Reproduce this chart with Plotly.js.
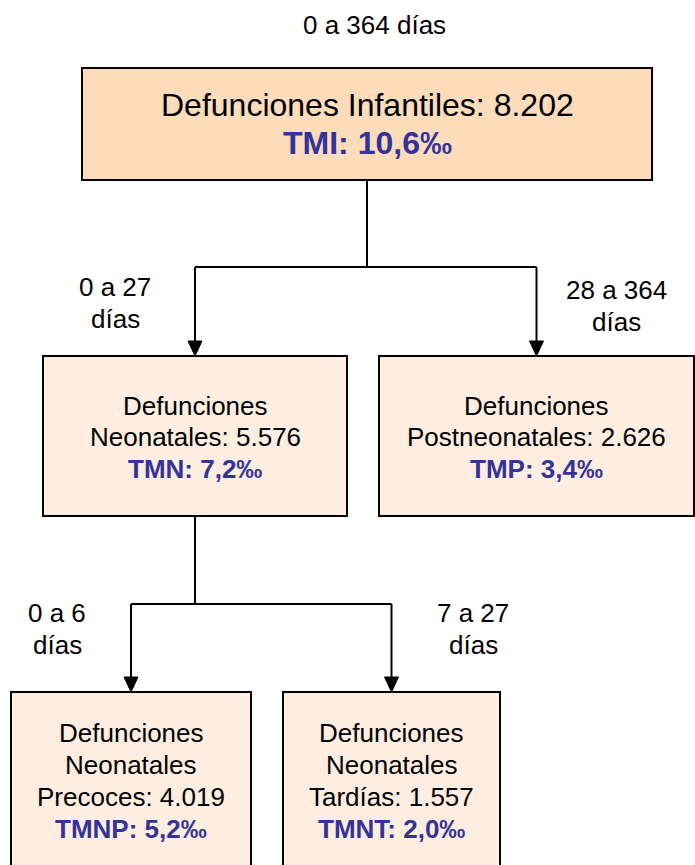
<!DOCTYPE html>
<html>
<head>
<meta charset="utf-8">
<script src="https://cdn.plot.ly/plotly-3.0.1.min.js"></script>
<style>html,body{margin:0;padding:0;background:#fff;}#chart{width:695px;height:865px;}</style>
</head>
<body>
<div id="chart"></div>
<script>
// ---- data ----
const nodeTitles = ["Defunciones Infantiles", "Defunciones<br>Neonatales", "Defunciones<br>Postneonatales", "Defunciones<br>Neonatales<br>Precoces", "Defunciones<br>Neonatales<br>Tardías"];
const nodeDeaths = [8202, 5576, 2626, 4019, 1557];
const rateCodes = ["TMI", "TMN", "TMP", "TMNP", "TMNT"];
const rateValues = [10.6, 7.2, 3.4, 5.2, 2.0];
const rangeLabels = ["0 a 364 días", "0 a 27<br>días", "28 a 364<br>días", "0 a 6<br>días", "7 a 27<br>días"];
const parentOf = [null, 0, 0, 1, 1];

// ---- layout geometry (pixels) ----
const boxes = [
  {x0: 82, x1: 652, y0: 68, y1: 180, ty: 124, fill: '#FCDCBA', fs: 32, sp: 38},
  {x0: 43, x1: 347, y0: 356, y1: 516, ty: 437, fill: '#FDEEE1', fs: 26, sp: 31.5},
  {x0: 379, x1: 694, y0: 356, y1: 516, ty: 437, fill: '#FDEEE1', fs: 26, sp: 31.5},
  {x0: 11, x1: 251, y0: 692, y1: 880, ty: 781, fill: '#FDEEE1', fs: 26, sp: 31.7},
  {x0: 283, x1: 500, y0: 692, y1: 880, ty: 781, fill: '#FDEEE1', fs: 26, sp: 31.7}
];
const labelPos = [{x: 374, y: 25}, {x: 115, y: 303}, {x: 616, y: 306}, {x: 57, y: 629}, {x: 473, y: 629}];
const labelSize = 26, labelSp = 31.5;
const branchY = {0: 267, 1: 604};
const FONT = '"Liberation Sans", Arial, sans-serif';
const BLUE = '#333399';

function fmtInt(n) { return String(n).replace(/\B(?=(\d{3})+(?!\d))/g, '.'); }
function fmtRate(v) { return v.toFixed(1).replace('.', ','); }

const shapes = [];
const annotations = [];

function addLines(lines, cx, cy, sp, size) {
  const n = lines.length;
  lines.forEach((t, j) => {
    annotations.push({xref: 'x', yref: 'y', x: cx, y: cy + (j - (n - 1) / 2) * sp,
      xanchor: 'center', yanchor: 'middle', showarrow: false, align: 'center',
      font: {family: FONT, size: size, color: '#000'}, text: t});
  });
}

boxes.forEach((b, i) => {
  shapes.push({type: 'rect', xref: 'x', yref: 'y', x0: b.x0, x1: b.x1, y0: b.y0, y1: b.y1,
    fillcolor: b.fill, line: {color: '#000', width: 2}, layer: 'below'});
  const cx = (b.x0 + b.x1) / 2;
  const lines = (nodeTitles[i] + ': ' + fmtInt(nodeDeaths[i])).split('<br>');
  lines.push('<b><span style="color:' + BLUE + '">' + rateCodes[i] + ': ' + fmtRate(rateValues[i]) + '‰</span></b>');
  addLines(lines, cx, b.ty, b.sp, b.fs);
  addLines(rangeLabels[i].split('<br>'), labelPos[i].x, labelPos[i].y, labelSp, labelSize);
});

// connectors
const lineStyle = {color: '#000', width: 2};
[0, 1].forEach(p => {
  const pb = boxes[p];
  const px = (pb.x0 + pb.x1) / 2;
  const by = branchY[p];
  const kids = parentOf.map((q, i) => q === p ? i : -1).filter(i => i >= 0);
  const kx = kids.map(k => (boxes[k].x0 + boxes[k].x1) / 2);
  shapes.push({type: 'line', xref: 'x', yref: 'y', x0: px, x1: px, y0: pb.y1, y1: by, line: lineStyle});
  shapes.push({type: 'line', xref: 'x', yref: 'y', x0: Math.min(...kx), x1: Math.max(...kx), y0: by, y1: by, line: lineStyle});
  kids.forEach((k, j) => {
    const tip = boxes[k].y0;
    const x = kx[j];
    shapes.push({type: 'line', xref: 'x', yref: 'y', x0: x, x1: x, y0: by, y1: tip - 14, line: lineStyle});
    shapes.push({type: 'path', xref: 'x', yref: 'y',
      path: 'M ' + (x - 7) + ',' + (tip - 15) + ' L ' + (x + 7) + ',' + (tip - 15) + ' L ' + x + ',' + tip + ' Z',
      fillcolor: '#000', line: {color: '#000', width: 1}});
  });
});

Plotly.newPlot('chart', [{x: [], y: [], type: 'scatter', hoverinfo: 'skip', showlegend: false}], {
  width: 695, height: 865,
  margin: {l: 0, r: 0, t: 0, b: 0},
  paper_bgcolor: '#fff', plot_bgcolor: '#fff',
  xaxis: {range: [0, 695], visible: false, fixedrange: true},
  yaxis: {range: [865, 0], visible: false, fixedrange: true},
  shapes: shapes,
  annotations: annotations,
  showlegend: false
}, {displayModeBar: false, staticPlot: true});
</script>
</body>
</html>
